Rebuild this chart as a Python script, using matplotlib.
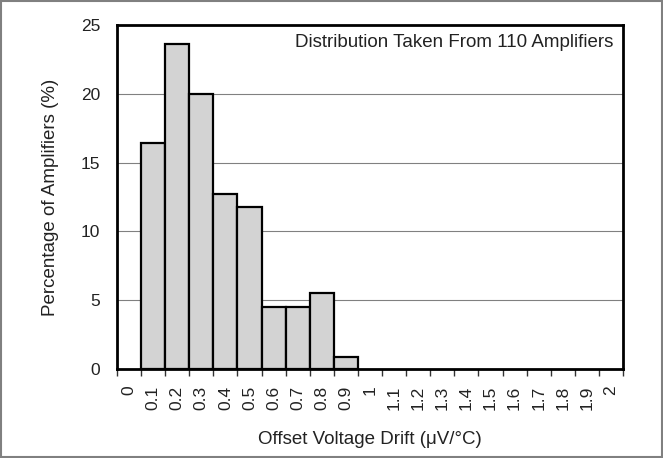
import numpy as np
import matplotlib.pyplot as plt
from matplotlib.patches import Rectangle

plt.rcParams['font.family'] = ['Liberation Sans', 'DejaVu Sans']

# bin labels (uV/C) and percentage of amplifiers in each bin
bin_labels = ['0', '0.1', '0.2', '0.3', '0.4', '0.5', '0.6', '0.7', '0.8', '0.9', '1',
              '1.1', '1.2', '1.3', '1.4', '1.5', '1.6', '1.7', '1.8', '1.9', '2']
percent = [0, 16.4, 23.6, 20.0, 12.7, 11.8, 4.5, 4.5, 5.5, 0.9, 0,
           0, 0, 0, 0, 0, 0, 0, 0, 0, 0]

fig = plt.figure(figsize=(6.63, 4.58), dpi=100)
fig.patches.append(Rectangle((0.002, 0.002), 0.996, 0.996, transform=fig.transFigure,
                             fill=False, edgecolor='#808080', linewidth=1.5))
ax = fig.add_axes([0.1765, 0.1943, 0.7632, 0.7511])

x = np.arange(len(bin_labels))
vals = np.array(percent)
nz = vals > 0
ax.bar(x[nz], vals[nz], width=1.0, color='#d3d3d3', edgecolor='black',
       linewidth=1.6, zorder=3)

ax.set_xlim(-0.5, len(bin_labels) - 0.5)
ax.set_ylim(0, 25)
ax.set_yticks([0, 5, 10, 15, 20, 25])
ax.yaxis.grid(True, color='#808080', linewidth=0.8, zorder=0)
ax.tick_params(axis='y', length=0, labelsize=12.5, pad=12, colors='#222222')

ax.set_xticks(np.arange(len(bin_labels) + 1) - 0.5)
ax.set_xticklabels([])
ax.set_xticks(x, minor=True)
ax.set_xticklabels(bin_labels, minor=True, rotation=90, fontsize=12.5, color='#222222')
ax.tick_params(axis='x', which='major', direction='out', length=5, width=1, color='#333333')
ax.tick_params(axis='x', which='minor', length=0, pad=12)

for s in ax.spines.values():
    s.set_linewidth(2)
    s.set_zorder(4)

ax.text(0.98, 0.948, 'Distribution Taken From 110 Amplifiers', transform=ax.transAxes,
        ha='right', va='center', fontsize=13.5, color='#222222')
ax.set_ylabel('Percentage of Amplifiers (%)', fontsize=13.5, labelpad=16, color='#222222')
ax.set_xlabel('Offset Voltage Drift (\u03bcV/\u00b0C)', fontsize=13.5, labelpad=15,
              color='#222222')

fig.savefig('out.png', dpi=100)
